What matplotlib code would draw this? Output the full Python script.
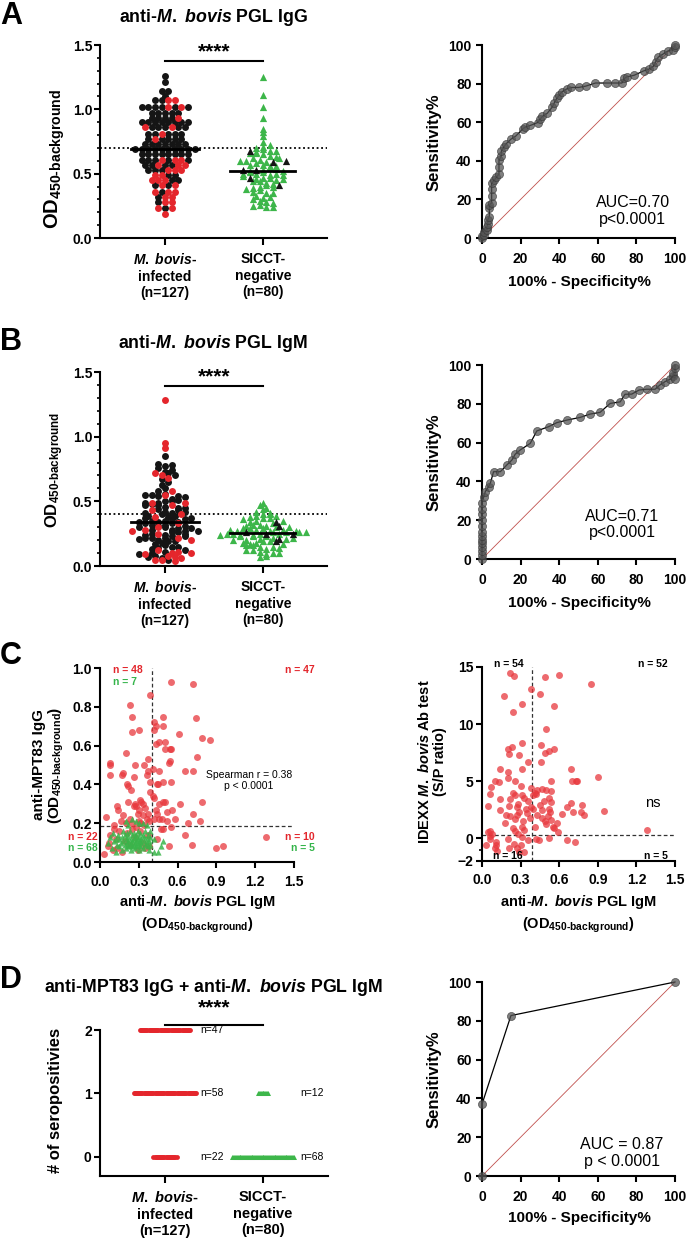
import numpy as np
import matplotlib
matplotlib.use('Agg')
import matplotlib.pyplot as plt
from matplotlib.ticker import MultipleLocator, FormatStrFormatter

plt.rcParams['font.family'] = ['Liberation Sans', 'DejaVu Sans']
plt.rcParams['font.weight'] = 'bold'
plt.rcParams['mathtext.fontset'] = 'custom'
plt.rcParams['mathtext.rm'] = 'Liberation Sans:bold'
plt.rcParams['mathtext.bf'] = 'Liberation Sans:bold'
plt.rcParams['mathtext.it'] = 'Liberation Sans:italic:bold'
plt.rcParams['mathtext.default'] = 'bf'
plt.rcParams['axes.linewidth'] = 1.5

# ---------------- data ----------------
# A: anti-M. bovis PGL IgG (OD)
a_inf_black = [1.26, 1.21, 1.14, 1.14, 1.10, 1.07, 1.07,
               1.02, 1.02, 1.02, 1.02, 1.02, 1.02,
               0.97, 0.97, 0.97, 0.97, 0.97,
               0.93, 0.93, 0.93, 0.93,
               0.90, 0.90, 0.90, 0.90, 0.90, 0.90, 0.90, 0.90,
               0.86, 0.86, 0.86, 0.86, 0.86,
               0.81, 0.81, 0.81, 0.81, 0.81,
               0.77, 0.77, 0.77, 0.77, 0.77,
               0.73, 0.73, 0.73, 0.73, 0.73, 0.73, 0.73,
               0.69, 0.69, 0.69, 0.69, 0.69, 0.69, 0.69, 0.69, 0.69, 0.69,
               0.65, 0.65, 0.65, 0.65, 0.65, 0.65, 0.65, 0.65,
               0.61, 0.61, 0.61, 0.61, 0.61,
               0.57, 0.57, 0.57, 0.57,
               0.53, 0.53, 0.53, 0.49, 0.49, 0.45, 0.45, 0.41, 0.41,
               0.36, 0.32, 0.28, 0.23]
a_inf_red = [1.07, 1.07, 1.02, 1.02, 0.93, 0.86, 0.86, 0.81, 0.77,
             0.61, 0.61, 0.61, 0.57, 0.57, 0.57, 0.53, 0.53, 0.53,
             0.49, 0.49, 0.45, 0.45, 0.45, 0.41, 0.41, 0.36, 0.36, 0.36,
             0.32, 0.32, 0.28, 0.28, 0.23, 0.23, 0.19]
a_neg_green = [1.25, 1.11, 1.02, 0.93, 0.85, 0.82, 0.79, 0.75, 0.72, 0.71,
               0.70, 0.69, 0.68, 0.68, 0.67, 0.66, 0.66, 0.65, 0.64, 0.63,
               0.62, 0.62, 0.61, 0.60, 0.60, 0.59, 0.58, 0.57, 0.57, 0.56,
               0.56, 0.55, 0.54, 0.53, 0.52, 0.52, 0.51, 0.51, 0.50, 0.50,
               0.50, 0.49, 0.49, 0.48, 0.47, 0.47, 0.46, 0.46, 0.45, 0.44,
               0.44, 0.43, 0.42, 0.41, 0.40, 0.40, 0.39, 0.38, 0.37, 0.36,
               0.35, 0.35, 0.33, 0.32, 0.31, 0.30, 0.29, 0.28, 0.27, 0.26,
               0.25, 0.24, 0.24]
a_neg_black = [0.68, 0.60, 0.59, 0.53, 0.53, 0.47, 0.41]
a_cutoff = 0.70

# B: anti-M. bovis PGL IgM (OD)
b_inf_black = [0.85, 0.79, 0.78, 0.77, 0.76, 0.74, 0.73, 0.72, 0.70, 0.67,
               0.65, 0.63, 0.60, 0.58, 0.56, 0.55, 0.55, 0.54, 0.54, 0.53,
               0.52, 0.51, 0.50, 0.50, 0.49, 0.49, 0.48, 0.47, 0.46, 0.45,
               0.45, 0.44, 0.43, 0.42, 0.41, 0.41, 0.40, 0.39, 0.39, 0.38,
               0.37, 0.37, 0.36, 0.36, 0.35, 0.35, 0.34, 0.34, 0.33, 0.33,
               0.32, 0.32, 0.31, 0.31, 0.30, 0.30, 0.29, 0.29, 0.28, 0.27,
               0.27, 0.26, 0.26, 0.25, 0.25, 0.24, 0.24, 0.23, 0.22, 0.22,
               0.22, 0.21, 0.20, 0.19, 0.19, 0.18, 0.17, 0.16, 0.15, 0.15,
               0.14, 0.13, 0.12, 0.11, 0.10, 0.09, 0.08, 0.07, 0.06, 0.05,
               0.23, 0.28, 0.34, 0.42, 0.47]
b_inf_red = [1.28, 0.95, 0.91, 0.72, 0.70, 0.68, 0.58, 0.55, 0.49, 0.49,
             0.47, 0.43, 0.40, 0.38, 0.33, 0.30, 0.28, 0.27, 0.25, 0.22,
             0.20, 0.12, 0.11, 0.10, 0.10, 0.09, 0.08, 0.07, 0.06, 0.05,
             0.05, 0.04]
b_neg_green = [0.49, 0.47, 0.45, 0.44, 0.42, 0.41, 0.40, 0.40, 0.39, 0.39,
               0.38, 0.37, 0.37, 0.36, 0.35, 0.34, 0.33, 0.32, 0.32, 0.31,
               0.30, 0.30, 0.29, 0.29, 0.28, 0.28, 0.27, 0.27, 0.27, 0.26,
               0.26, 0.26, 0.25, 0.25, 0.25, 0.25, 0.24, 0.24, 0.24, 0.23,
               0.23, 0.22, 0.22, 0.21, 0.21, 0.20, 0.20, 0.19, 0.19, 0.18,
               0.18, 0.17, 0.17, 0.16, 0.16, 0.15, 0.15, 0.14, 0.13, 0.12,
               0.12, 0.11, 0.10, 0.10, 0.09, 0.08, 0.07, 0.28, 0.26, 0.23,
               0.31, 0.35, 0.29]
b_neg_black = [0.34, 0.31, 0.26, 0.25, 0.25, 0.21, 0.19]
b_cutoff = 0.40

# ROC curves (100% - specificity, sensitivity)
roc_a_x = [0, 0, 1.2, 1.2, 2.5, 2.5, 3.0, 3.0, 3.8, 3.8, 3.8, 5, 5, 5, 5, 6.3, 7.5,
           8.8, 8.8, 8.8, 10, 10, 11.3, 12.5, 15, 17.5, 21.3, 22.5, 25, 28.8, 30,
           31.3, 33.8, 36.3, 37.5, 38.8, 40, 41.3, 43.8, 46.3, 50, 53.8, 58.8, 65,
           68.8, 72.5, 73.8, 75, 78.8, 83.8, 86.3, 88.8, 90, 91.3, 93.8, 96.3,
           98.8, 100, 100]
roc_a_y = [0, 1, 1.6, 3.1, 3.9, 5.5, 7.1, 9.4, 11, 15.7, 17.3, 18.1, 22, 25.2,
           28.3, 29.9, 31.5, 33.1, 37, 40.2, 42.5, 44.9, 47.2, 48.8, 51.2, 52.8,
           56.7, 57.5, 58.3, 59.8, 61.4, 63, 64.6, 67.7, 70.1, 72.4, 74, 75.6,
           77.2, 78, 78, 78.7, 80.3, 80.3, 80.3, 80.3, 82.7, 83.5, 84.3, 86.6,
           87.4, 89, 91.3, 93.7, 95.3, 96.9, 97.6, 99.2, 100]
roc_b_x = [0, 0, 0, 0, 0, 0, 0, 0, 0, 0, 0, 0, 0, 0.9, 1.7, 3.4, 4.3, 6, 9.5,
           12.9, 15.5, 17.2, 19.8, 25, 28.4, 34.5, 38.8, 44, 50.9, 56, 61.2, 66.4,
           71.6, 74.1, 77.6, 81.4, 85.3, 89.7, 92.2, 94.8, 97.4, 98.8, 99.1, 100,
           100, 100]
roc_b_y = [0, 2, 4, 6, 8, 10, 12, 14, 17, 20, 23, 26, 29, 32, 34.7, 37.3, 39,
           45, 45, 48.5, 51, 54, 56.2, 59.6, 66, 68.2, 70.3, 71.6, 73, 74.7, 75.6,
           80.2, 81, 84.9, 85, 87.1, 87.5, 87.5, 89.7, 91.4, 92.6, 94.5, 95.7, 93,
           98.3, 100]
roc_d_x = [0, 0, 15, 100]
roc_d_y = [0, 37, 82.7, 100]

# C left: PGL IgM (x) vs anti-MPT83 IgG (y)
cl_red_x = [0.55, 0.72, 0.49, 0.42, 0.43, 0.42, 0.49, 0.74, 0.61, 0.79, 0.85, 0.50,
            0.43, 0.46, 0.55, 0.50, 0.75, 0.54, 0.53, 0.46, 0.66, 0.72, 0.44, 0.49,
            0.55, 0.41, 0.62, 0.72, 0.79, 0.49, 0.46, 0.43, 0.52, 0.58, 0.46, 0.52,
            0.68, 0.77, 0.41, 0.42, 0.45, 0.50, 0.54, 0.42, 0.44, 0.48, 0.56,
            0.39, 0.23, 0.25, 0.30, 0.25, 0.20, 0.37, 0.08, 0.08, 0.08, 0.27, 0.34,
            0.18, 0.17, 0.26, 0.36, 0.37, 0.39, 0.21, 0.22, 0.24, 0.32, 0.27, 0.22,
            0.30, 0.05, 0.13, 0.14, 0.26, 0.28, 0.31, 0.33, 0.35, 0.18, 0.23, 0.29,
            0.33, 0.36, 0.38, 0.20, 0.25, 0.31, 0.34, 0.16, 0.11, 0.30, 0.37, 0.39,
            0.03, 0.06, 0.07, 0.08, 0.10, 0.12, 0.13, 0.15, 0.17, 0.19, 0.21, 0.23,
            0.25, 0.27, 0.29, 0.31, 0.33, 0.35, 0.37, 0.38, 0.11, 0.28,
            0.47, 0.49, 0.55, 0.66, 1.28, 0.90, 0.95, 0.71, 0.53, 0.44]
cl_red_y = [0.93, 0.92, 0.75, 0.72, 0.70, 0.68, 0.70, 0.74, 0.66, 0.64, 0.63, 0.62,
            0.61, 0.62, 0.58, 0.58, 0.54, 0.52, 0.51, 0.47, 0.47, 0.47, 0.40, 0.41,
            0.41, 0.48, 0.30, 0.25, 0.31, 0.31, 0.30, 0.27, 0.26, 0.22, 0.22, 0.21,
            0.20, 0.21, 0.34, 0.33, 0.40, 0.31, 0.58, 0.22, 0.25, 0.22, 0.27,
            0.86, 0.81, 0.75, 0.68, 0.67, 0.56, 0.53, 0.51, 0.50, 0.45, 0.50, 0.50,
            0.46, 0.45, 0.44, 0.45, 0.47, 0.41, 0.40, 0.39, 0.37, 0.31, 0.30, 0.31,
            0.27, 0.23, 0.29, 0.27, 0.29, 0.29, 0.32, 0.30, 0.28, 0.24, 0.22, 0.25,
            0.24, 0.22, 0.21, 0.20, 0.20, 0.20, 0.19, 0.21, 0.19, 0.21, 0.25, 0.36,
            0.04, 0.08, 0.10, 0.14, 0.06, 0.12, 0.07, 0.16, 0.05, 0.11, 0.15, 0.09,
            0.17, 0.13, 0.06, 0.16, 0.10, 0.07, 0.14, 0.08, 0.17, 0.18,
            0.17, 0.17, 0.18, 0.14, 0.13, 0.07, 0.08, 0.09, 0.08, 0.12]
cl_grn_x = [0.28, 0.30, 0.22, 0.25, 0.33, 0.20, 0.36,
            0.06, 0.08, 0.09, 0.10, 0.11, 0.12, 0.12, 0.13, 0.14, 0.15,
            0.15, 0.16, 0.17, 0.17, 0.18, 0.18, 0.19, 0.19, 0.20, 0.20,
            0.21, 0.21, 0.22, 0.22, 0.22, 0.23, 0.23, 0.24, 0.24, 0.24,
            0.25, 0.25, 0.25, 0.26, 0.26, 0.26, 0.27, 0.27, 0.27, 0.28,
            0.28, 0.28, 0.29, 0.29, 0.29, 0.30, 0.30, 0.30, 0.31, 0.31,
            0.31, 0.32, 0.32, 0.33, 0.33, 0.34, 0.34, 0.35, 0.35, 0.36,
            0.36, 0.37, 0.37, 0.38, 0.38, 0.39, 0.39, 0.39,
            0.42, 0.45, 0.47, 0.42, 0.49]
cl_grn_y = [0.21, 0.20, 0.19, 0.22, 0.20, 0.21, 0.19,
            0.10, 0.13, 0.07, 0.15, 0.11, 0.05, 0.12, 0.09, 0.14, 0.08,
            0.12, 0.10, 0.13, 0.06, 0.11, 0.16, 0.09, 0.14, 0.12, 0.07,
            0.10, 0.15, 0.11, 0.08, 0.13, 0.09, 0.16, 0.12, 0.06, 0.10,
            0.14, 0.11, 0.08, 0.12, 0.09, 0.15, 0.10, 0.13, 0.07, 0.11,
            0.14, 0.08, 0.12, 0.10, 0.16, 0.09, 0.13, 0.06, 0.11, 0.15,
            0.08, 0.12, 0.10, 0.14, 0.07, 0.11, 0.13, 0.09, 0.16, 0.10,
            0.12, 0.08, 0.14, 0.11, 0.06, 0.13, 0.09, 0.16,
            0.05, 0.05, 0.08, 0.12, 0.11]
cl_cut_x, cl_cut_y = 0.40, 0.185

# C right: PGL IgM (x) vs IDEXX S/P ratio (y)
cr_x = [0.49, 0.60, 0.85, 0.45, 0.56, 0.50, 0.46, 0.56, 0.52, 0.49, 0.46, 0.69, 0.54,
        0.70, 0.74, 0.90, 0.73, 0.40, 0.41, 0.43, 0.47, 0.50, 0.54, 0.48, 0.54, 0.69,
        0.78, 0.95, 0.66, 0.71, 0.77, 0.79, 0.62, 0.52, 0.53, 0.47, 0.40, 0.43, 0.51,
        0.54, 0.49, 0.55, 0.56, 0.59, 1.28, 0.42, 0.45, 0.50, 0.52, 0.41, 0.47, 0.58,
        0.52, 0.66, 0.72, 0.42, 0.44,
        0.22, 0.25, 0.38, 0.17, 0.31, 0.24, 0.31, 0.20, 0.23, 0.21, 0.29, 0.36, 0.14,
        0.20, 0.31, 0.20, 0.10, 0.26, 0.07, 0.13, 0.38, 0.06, 0.05, 0.14, 0.24, 0.26,
        0.31, 0.33, 0.36, 0.38, 0.34, 0.27, 0.22, 0.14, 0.19, 0.22, 0.27, 0.29, 0.18,
        0.26, 0.37, 0.24, 0.26, 0.31, 0.33, 0.28, 0.05, 0.08, 0.30, 0.35, 0.32, 0.21,
        0.28, 0.06,
        0.31, 0.06, 0.06, 0.11, 0.11, 0.10, 0.03, 0.21, 0.27, 0.29, 0.33, 0.30, 0.20,
        0.12, 0.36, 0.25]
cr_y = [14.1, 14.3, 13.5, 12.6, 11.6, 9.6, 8.2, 7.8, 7.6, 7.5, 6.7, 6.1, 5.0,
        5.0, 5.0, 5.4, 5.0, 3.8, 4.0, 4.2, 4.3, 4.2, 4.1, 3.3, 3.2, 3.1,
        2.9, 2.4, 2.7, 2.3, 2.3, 2.0, 2.1, 2.6, 2.3, 2.5, 2.6, 2.0, 1.9,
        1.6, 1.5, 0.98, 0.85, 0.55, 0.7, 3.9, 2.9, 1.2, 3.5, 1.0, 1.8, 1.3,
        0.03, -0.2, -0.35, -0.1, -0.15,
        14.5, 14.2, 13.1, 12.5, 11.8, 11.1, 8.3, 7.8, 8.0, 7.4, 7.3, 6.7, 6.1,
        5.8, 6.1, 5.3, 5.0, 5.0, 4.5, 4.9, 4.4, 3.9, 2.8, 3.4, 4.0, 3.8,
        3.8, 3.5, 3.3, 2.7, 2.6, 2.7, 3.4, 2.5, 2.0, 1.9, 2.0, 2.3, 1.3,
        1.7, 1.8, 0.9, 0.6, 1.0, 0.7, 0.35, 0.5, 0.4, 4.6, 2.2, 1.5, 2.8,
        3.0, 0.6,
        0.1, 0.2, -0.04, -0.33, -0.6, -0.9, -0.6, -0.9, -0.9, -1.2, -1.2, -0.6, -0.1,
        -1.1, -0.2, -0.5]
cr_cut_x, cr_cut_y = 0.39, 0.3

# D: number of seropositivities
d_scores = [2, 1, 0]
d_inf_counts = [47, 58, 22]
d_neg_counts = [0, 12, 68]

# ---------------- figure layout (pixel helpers) ----------------
W, H = 687, 1238
fig = plt.figure(figsize=(W / 100, H / 100), dpi=100)


def add_ax(l, t, r, b):
    return fig.add_axes([l / W, 1 - b / H, (r - l) / W, (b - t) / H])


def ftext(x, y, s, **kw):
    return fig.text(x / W, 1 - y / H, s, **kw)


def style(ax, size=10):
    ax.spines['top'].set_visible(False)
    ax.spines['right'].set_visible(False)
    ax.tick_params(width=1.5, length=4, labelsize=size, pad=2)
    ax.tick_params(which='minor', width=1.2, length=2.5)


def swarm_offsets(vals, xscale, yscale, row_px, dx_px):
    # GraphPad-like: points grouped in horizontal rows, spread from the centre
    vals = np.asarray(vals, dtype=float)
    rows = np.round(vals * yscale / row_px).astype(int)
    xs = np.zeros(len(vals))
    for r in np.unique(rows):
        idx = np.where(rows == r)[0]
        idx = idx[np.argsort((idx * 37) % 11, kind='stable')]
        n = len(idx)
        slots = (np.arange(n) - (n - 1) / 2) * dx_px
        slots = slots[np.argsort(np.abs(slots) + 1e-3 * np.arange(n), kind='stable')]
        for k, i in enumerate(idx):
            xs[i] = slots[k] / xscale
    return xs


MB = r'$\mathit{M.\ bovis}$'
OD = r'OD$_{\text{450-background}}$'
grp_labels = [MB + '-\ninfected\n(n=127)', 'SICCT-\nnegative\n(n=80)']
BLACK, RED, GREEN = '#151515', '#e4262c', '#3db64a'


def dot_panel(ax, inf_black, inf_red, neg_green, neg_black, cutoff, ypx, bar_y, star_y, row_px):
    style(ax)
    ax.tick_params(axis='y', pad=1.5)
    xpx = 98.0
    inf = np.array(inf_black + inf_red)
    off = swarm_offsets(inf, xpx, ypx, row_px, 6.6)
    nb = len(inf_black)
    ax.scatter(off[:nb], inf[:nb], s=25, color=BLACK, lw=0, zorder=3, clip_on=False)
    ax.scatter(off[nb:], inf[nb:], s=25, color=RED, lw=0, zorder=3, clip_on=False)
    neg = np.array(neg_green + neg_black)
    off2 = swarm_offsets(neg, xpx, ypx, 4.6, 6.6)
    ng = len(neg_green)
    ax.scatter(1 + off2[:ng], neg[:ng], s=27, marker='^', color=GREEN, lw=0, zorder=3, clip_on=False)
    ax.scatter(1 + off2[ng:], neg[ng:], s=27, marker='^', color=BLACK, lw=0, zorder=4, clip_on=False)
    ax.plot([-0.35, 0.35], [np.median(inf)] * 2, color='black', lw=2, zorder=5)
    ax.plot([0.66, 1.33], [np.median(neg)] * 2, color='black', lw=2, zorder=5)
    ax.axhline(cutoff, color='black', lw=1.3, ls=(0, (1, 1.5)), zorder=2)
    ax.plot([0, 1], [bar_y, bar_y], color='black', lw=1.5, clip_on=False)
    ax.text(0.5, star_y, '****', ha='center', va='center', fontsize=15, clip_on=False)
    ax.set_xlim(-(165 - 100) / xpx, 1 + (327 - 263) / xpx)
    ax.set_ylim(0, 1.5)
    ax.yaxis.set_major_locator(MultipleLocator(0.5))
    ax.yaxis.set_minor_locator(MultipleLocator(0.1))
    ax.yaxis.set_major_formatter(FormatStrFormatter('%.1f'))
    ax.set_xticks([0, 1])
    ax.set_xticklabels(grp_labels, fontsize=10, linespacing=1.25)
    ax.tick_params(axis='x', length=5, pad=5)


def roc_panel(ax, x, y, auc_text, tx, ty):
    style(ax)
    ax.tick_params(axis='x', pad=6)
    ax.tick_params(axis='y', pad=3.5)
    ax.plot([0, 100], [0, 100], color='#c0504d', lw=0.6, zorder=1)
    ax.plot(x, y, color='black', lw=0.9, zorder=2, clip_on=False)
    ax.scatter(x, y, s=34, color='#555555', alpha=0.75, edgecolor='#333333',
               lw=0.5, zorder=3, clip_on=False)
    ax.set_xlim(0, 100)
    ax.set_ylim(0, 100)
    ax.set_xticks(range(0, 101, 20))
    ax.set_yticks(range(0, 101, 20))
    ax.text(tx, ty, auc_text, ha='center', va='center', fontsize=11.5,
            fontweight='normal', linespacing=1.15)


# ---------------- panel A ----------------
ftext(0, 16, 'A', fontsize=22, va='center', ha='left')
ftext(213, 17, 'anti-' + MB + ' PGL IgG', fontsize=12.8, ha='center', va='center')
axA = add_ax(100, 45, 327, 238)
dot_panel(axA, a_inf_black, a_inf_red, a_neg_green, a_neg_black, a_cutoff,
          193 / 1.5, 1.375, 1.445, 2.0)
ftext(55, 159, OD, fontsize=14.5, rotation=90, ha='center', va='center')

axAr = add_ax(482, 45, 675, 238)
roc_panel(axAr, roc_a_x, roc_a_y, 'AUC=0.70\np<0.0001', 78, 14)
ftext(434, 142, 'Sensitivity%', fontsize=12, rotation=90, ha='center', va='center')
ftext(579, 282, '100% - Specificity%', fontsize=11, ha='center', va='center')

# ---------------- panel B ----------------
ftext(0, 342, 'B', fontsize=22, va='center', ha='left')
ftext(213, 343, 'anti-' + MB + ' PGL IgM', fontsize=12.8, ha='center', va='center')
axB = add_ax(100, 372, 327, 566)
dot_panel(axB, b_inf_black, b_inf_red, b_neg_green, b_neg_black, b_cutoff,
          194 / 1.5, 1.39, 1.46, 4.6)
ftext(55, 470, OD, fontsize=12, rotation=90, ha='center', va='center')

axBr = add_ax(482, 365, 675, 559)
roc_panel(axBr, roc_b_x, roc_b_y, 'AUC=0.71\np<0.0001', 72.5, 17.8)
ftext(434, 462, 'Sensitivity%', fontsize=12, rotation=90, ha='center', va='center')
ftext(579, 603, '100% - Specificity%', fontsize=11, ha='center', va='center')

# ---------------- panel C ----------------
ftext(0, 656, 'C', fontsize=22, va='center', ha='left')
axC = add_ax(100, 668, 294, 862)
style(axC)
axC.tick_params(axis='x', pad=5)
axC.scatter(cl_red_x, cl_red_y, s=25, color='#e8383d', alpha=0.75, lw=0, zorder=3)
axC.scatter(cl_grn_x, cl_grn_y, s=20, marker='^', color='#39b54a', alpha=0.85, lw=0, zorder=4)
axC.axvline(cl_cut_x, color='#333333', lw=0.9, ls=(0, (3, 2)), zorder=2)
axC.axhline(cl_cut_y, color='#333333', lw=0.9, ls=(0, (3, 2)), zorder=2)
axC.set_xlim(0, 1.5)
axC.set_ylim(0, 1.0)
axC.set_xticks(np.arange(0, 1.51, 0.3))
axC.set_yticks(np.arange(0, 1.01, 0.2))
axC.xaxis.set_major_formatter(FormatStrFormatter('%.1f'))
axC.yaxis.set_major_formatter(FormatStrFormatter('%.1f'))
nkw = dict(fontsize=7.5, va='center', clip_on=False)
axC.text(0.10, 0.99, 'n = 48', color='#e3262c', ha='left', **nkw)
axC.text(0.10, 0.93, 'n = 7', color='#34b44a', ha='left', **nkw)
axC.text(1.66, 0.99, 'n = 47', color='#e3262c', ha='right', **nkw)
axC.text(-0.02, 0.13, 'n = 22', color='#e3262c', ha='right', **nkw)
axC.text(-0.02, 0.07, 'n = 68', color='#34b44a', ha='right', **nkw)
axC.text(1.66, 0.13, 'n = 10', color='#e3262c', ha='right', **nkw)
axC.text(1.66, 0.07, 'n = 5', color='#34b44a', ha='right', **nkw)
axC.text(1.15, 0.42, 'Spearman r = 0.38\np < 0.0001', ha='center', va='center',
         fontsize=7.5, fontweight='normal')
ftext(49, 765, 'anti-MPT83 IgG\n(' + OD + ')', fontsize=11, rotation=90,
      ha='center', va='center', multialignment='center', linespacing=1.1)
ftext(197, 914, 'anti-' + MB + ' PGL IgM\n(' + OD + ')', fontsize=10.5,
      ha='center', va='center', multialignment='center', linespacing=1.35)

axCr = add_ax(482, 667, 675, 861)
style(axCr)
axCr.tick_params(axis='x', pad=5)
axCr.scatter(cr_x, cr_y, s=25, color='#e8383d', alpha=0.75, lw=0, zorder=3)
axCr.axvline(cr_cut_x, color='#333333', lw=0.9, ls=(0, (3, 2)), zorder=2)
axCr.axhline(cr_cut_y, color='#333333', lw=0.9, ls=(0, (3, 2)), zorder=2)
axCr.set_xlim(0, 1.5)
axCr.set_ylim(-2, 15)
axCr.set_xticks(np.arange(0, 1.51, 0.3))
axCr.xaxis.set_major_formatter(FormatStrFormatter('%.1f'))
axCr.set_yticks([-2, 0, 5, 10, 15])
axCr.set_yticks([-1], minor=True)
nkw2 = dict(fontsize=7.5, va='center', clip_on=False, color='black')
axCr.text(0.21, 15.3, 'n = 54', ha='center', **nkw2)
axCr.text(1.445, 15.3, 'n = 52', ha='right', **nkw2)
axCr.text(0.20, -1.56, 'n = 16', ha='center', **nkw2)
axCr.text(1.445, -1.56, 'n = 5', ha='right', **nkw2)
axCr.text(1.33, 3.1, 'ns', ha='center', va='center', fontsize=10.5, fontweight='normal')
ftext(432, 762, 'IDEXX ' + MB + ' Ab test\n(S/P ratio)', fontsize=10.5, rotation=90,
      ha='center', va='center', multialignment='center', linespacing=1.1)
ftext(578, 914, 'anti-' + MB + ' PGL IgM\n(' + OD + ')', fontsize=10.5,
      ha='center', va='center', multialignment='center', linespacing=1.35)

# ---------------- panel D ----------------
ftext(0, 980, 'D', fontsize=22, va='center', ha='left')
ftext(214, 988, 'anti-MPT83 IgG + anti-' + MB + ' PGL IgM', fontsize=12.8,
      ha='center', va='center')
axD = add_ax(100, 1030, 328, 1176)
style(axD)
xpx = 98.0
for score, n in zip(d_scores, d_inf_counts):
    if n:
        off = (np.arange(n) - (n - 1) / 2) * 1.1 / xpx
        axD.scatter(off, [score] * n, s=12, color=RED, lw=0, zorder=3, clip_on=False)
        axD.text(0.357, score, f'n={n}', fontsize=7.5, fontweight='normal', va='center')
for score, n in zip(d_scores, d_neg_counts):
    if n:
        off = (np.arange(n) - (n - 1) / 2) * 0.92 / xpx
        axD.scatter(1 + off, [score] * n, s=13, marker='^', color=GREEN, lw=0, zorder=3,
                    clip_on=False)
        axD.text(1.378, score, f'n={n}', fontsize=7.5, fontweight='normal', va='center')
axD.plot([0, 1], [2.08, 2.08], color='black', lw=1.5, clip_on=False)
axD.text(0.5, 2.35, '****', ha='center', va='center', fontsize=15, clip_on=False)
axD.set_xlim(-(165 - 100) / xpx, 1 + (328 - 263) / xpx)
axD.set_ylim(-0.3, 2.0)
axD.set_yticks([0, 1, 2])
axD.set_xticks([0, 1])
axD.set_xticklabels(grp_labels, fontsize=10.5, linespacing=1.25)
axD.tick_params(axis='x', length=5, pad=5)
ftext(56, 1100, '# of seropositivies', fontsize=12, rotation=90, ha='center', va='center')

axDr = add_ax(482, 982, 675, 1176)
roc_panel(axDr, roc_d_x, roc_d_y, 'AUC = 0.87\np < 0.0001', 72.5, 12)
ftext(434, 1079, 'Sensitivity%', fontsize=12, rotation=90, ha='center', va='center')
ftext(579, 1218, '100% - Specificity%', fontsize=11, ha='center', va='center')

fig.savefig('out.png', dpi=100)
